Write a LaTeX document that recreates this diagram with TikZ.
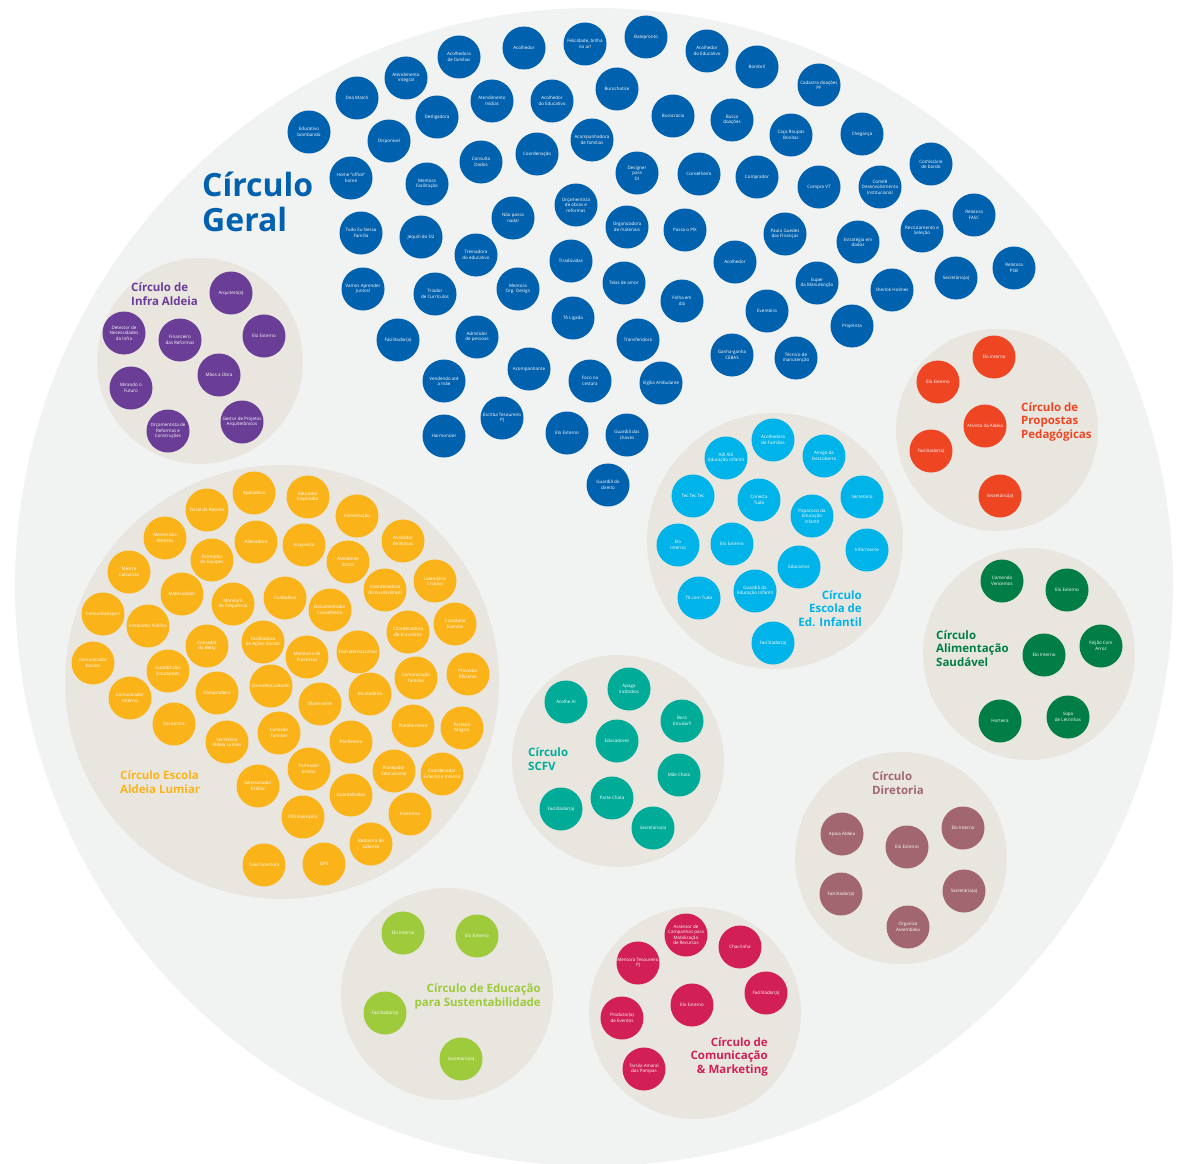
\documentclass[tikz,border=0pt]{standalone}
\usepackage{fontspec}
\setmainfont{Open Sans}

\definecolor{biggray}{HTML}{F1F2F2}
\definecolor{beige}{HTML}{E9E6DF}
\definecolor{geralblue}{HTML}{0061AE}
\definecolor{infrapurple}{HTML}{6A3D96}
\definecolor{escolaorange}{HTML}{FBB31A}
\definecolor{edinfblue}{HTML}{00B3E8}
\definecolor{propred}{HTML}{EE4523}
\definecolor{alimgreen}{HTML}{007E45}
\definecolor{scfvteal}{HTML}{00AB98}
\definecolor{dirmauve}{HTML}{A1666F}
\definecolor{sustlime}{HTML}{9DCB3C}
\definecolor{comcrimson}{HTML}{D21F55}

\begin{document}
\begin{tikzpicture}[x=1pt, y=-1pt,
    rolenode/.style={circle,
        fill=#1,
        minimum size=43pt,
        inner sep=0pt,
        text=white,
        align=center,
        font=\fontsize{4.5}{5.4}\selectfont
    },
    titletext/.style={text=#1,
        inner sep=0pt,
        font=\bfseries\fontsize{11.5}{13.3}\selectfont
    }
]

    \useasboundingbox (0,0) rectangle (1184,1164);
    \fill[white] (0,0) rectangle (1184,1164);
    \fill[biggray] (594,587) circle (579pt);

    % groups
    \fill[beige] (200,361) circle (103pt);
    \fill[beige] (282,682) circle (217pt);
    \fill[beige] (775,541) circle (128pt);
    \fill[beige] (997,430) circle (101pt);
    \fill[beige] (1029,654) circle (106pt);
    \fill[beige] (618,761) circle (106pt);
    \fill[beige] (901,858) circle (106pt);
    \fill[beige] (447,994) circle (106pt);
    \fill[beige] (695,1013) circle (106pt);

    % Circulo Geral
    \node[text=geralblue, inner sep=0pt, anchor=base west, align=left,
        font=\bfseries\fontsize{32}{35}\selectfont] (geraltitle) at (202,231) {Círculo\\Geral};
    \node[rolenode=geralblue] (geral1) at (459,57) {Acolhedora\\de famílias};
    \node[rolenode=geralblue] (geral2) at (524,48) {Acolhedor};
    \node[rolenode=geralblue] (geral3) at (585,44) {Felicidade, brilha\\no ar!};
    \node[rolenode=geralblue] (geral4) at (646,37) {Batepronto};
    \node[rolenode=geralblue] (geral5) at (707,51) {Acolhedor\\do Educativo};
    \node[rolenode=geralblue] (geral6) at (757,67) {Bombril};
    \node[rolenode=geralblue] (geral7) at (819,85) {Cadastra doações\\PF};
    \node[rolenode=geralblue] (geral8) at (406,78) {Atendimento\\integral};
    \node[rolenode=geralblue] (geral9) at (357,98) {Dea Match};
    \node[rolenode=geralblue] (geral10) at (492,101) {Atendimento\\mídias};
    \node[rolenode=geralblue] (geral11) at (552,101) {Acolhedor\\do Educativo};
    \node[rolenode=geralblue] (geral12) at (617,89) {Burochatice};
    \node[rolenode=geralblue] (geral13) at (673,116) {Burocracia};
    \node[rolenode=geralblue] (geral14) at (732,120) {Busca\\doações};
    \node[rolenode=geralblue] (geral15) at (791,135) {Caça Roupas\\Bonitas};
    \node[rolenode=geralblue] (geral16) at (862,134) {Chegança};
    \node[rolenode=geralblue] (geral17) at (437,117) {Desligadora};
    \node[rolenode=geralblue] (geral18) at (309,132) {Educativo\\bombando};
    \node[rolenode=geralblue] (geral19) at (389,141) {Disponível};
    \node[rolenode=geralblue] (geral20) at (481,162) {Consulta\\Dados};
    \node[rolenode=geralblue] (geral21) at (537,154) {Coordenação};
    \node[rolenode=geralblue] (geral22) at (592,140) {Acompanhadora\\de famílias};
    \node[rolenode=geralblue] (geral23) at (637,173) {Designer\\para\\DI};
    \node[rolenode=geralblue] (geral24) at (699,174) {Conselheiro};
    \node[rolenode=geralblue] (geral25) at (757,177) {Comprador};
    \node[rolenode=geralblue] (geral26) at (819,187) {Compra VT};
    \node[rolenode=geralblue] (geral27) at (880,187) {Comitê\\Desenvolvimento\\Institucional};
    \node[rolenode=geralblue] (geral28) at (931,164) {Comissário\\de bordo};
    \node[rolenode=geralblue] (geral29) at (351,178) {Home "office"\\home};
    \node[rolenode=geralblue] (geral30) at (427,184) {Mentora\\Facilitação};
    \node[rolenode=geralblue] (geral31) at (513,218) {Não passa\\nada!};
    \node[rolenode=geralblue] (geral32) at (576,205) {Orçamentista\\de obras e\\reformas};
    \node[rolenode=geralblue] (geral33) at (627,227) {Organizadora\\de materiais};
    \node[rolenode=geralblue] (geral34) at (685,230) {Passa o PIX};
    \node[rolenode=geralblue] (geral35) at (785,234) {Paulo Guedes\\das Finanças};
    \node[rolenode=geralblue] (geral36) at (858,242) {Estratégia em\\dados};
    \node[rolenode=geralblue] (geral37) at (922,231) {Recrutamento e\\Seleção};
    \node[rolenode=geralblue] (geral38) at (974,215) {Relatora\\FASC};
    \node[rolenode=geralblue] (geral39) at (361,233) {Tudo Eu Nessa\\Família};
    \node[rolenode=geralblue] (geral40) at (421,237) {Jequiti do D2};
    \node[rolenode=geralblue] (geral41) at (476,255) {Treinadora\\do educativo};
    \node[rolenode=geralblue] (geral42) at (571,261) {Tiradúvidas};
    \node[rolenode=geralblue] (geral43) at (363,289) {Vamos Aprender\\Juntos!};
    \node[rolenode=geralblue] (geral44) at (435,294) {Triador\\de Currículos};
    \node[rolenode=geralblue] (geral45) at (518,289) {Mentora\\Org. Design};
    \node[rolenode=geralblue] (geral46) at (624,283) {Telas de amor};
    \node[rolenode=geralblue] (geral47) at (682,301) {Folha em\\dia};
    \node[rolenode=geralblue] (geral48) at (735,262) {Acolhedor};
    \node[rolenode=geralblue] (geral49) at (817,283) {Super\\da Manutenção};
    \node[rolenode=geralblue] (geral50) at (892,290) {Sherlok Holmes};
    \node[rolenode=geralblue] (geral51) at (956,278) {Secretário(a)};
    \node[rolenode=geralblue] (geral52) at (1014,268) {Relatora\\PSB};
    \node[rolenode=geralblue] (geral53) at (573,318) {Tô Ligada};
    \node[rolenode=geralblue] (geral54) at (398,340) {Facilitador(a)};
    \node[rolenode=geralblue] (geral55) at (477,337) {Admitidor\\de pessoas};
    \node[rolenode=geralblue] (geral56) at (638,340) {Transferidora};
    \node[rolenode=geralblue] (geral57) at (767,311) {Eventeira};
    \node[rolenode=geralblue] (geral58) at (852,326) {Projetista};
    \node[rolenode=geralblue] (geral59) at (444,381) {Vendendo até\\a mãe};
    \node[rolenode=geralblue] (geral60) at (529,369) {Acompanhante};
    \node[rolenode=geralblue] (geral61) at (590,381) {Foco na\\cestara};
    \node[rolenode=geralblue] (geral62) at (661,383) {Vigília Ambulante};
    \node[rolenode=geralblue] (geral63) at (732,355) {Ganha-ganha\\CEBAS};
    \node[rolenode=geralblue] (geral64) at (796,358) {Técnico de\\manutenção};
    \node[rolenode=geralblue] (geral65) at (444,436) {Harmonizer};
    \node[rolenode=geralblue] (geral66) at (502,418) {Escriba Tesoureiro\\PJ};
    \node[rolenode=geralblue] (geral67) at (567,433) {Elo Externo};
    \node[rolenode=geralblue] (geral68) at (627,435) {Guardiã das\\chaves};
    \node[rolenode=geralblue] (geral69) at (608,485) {Guardiã do\\direito};

    % Circulo de Infra Aldeia
    \node[titletext=infrapurple, anchor=base west, align=left] (infratitle) at (131,305) {Círculo de\\Infra Aldeia};
    \node[rolenode=infrapurple] (infra1) at (231,293) {Arquiteto(a)};
    \node[rolenode=infrapurple] (infra2) at (264,336) {Elo Externo};
    \node[rolenode=infrapurple] (infra3) at (124,333) {Detector de\\Necessidades\\da Infra};
    \node[rolenode=infrapurple] (infra4) at (180,340) {Financeiro\\das Reformas};
    \node[rolenode=infrapurple] (infra5) at (219,375) {Mãos a Obra};
    \node[rolenode=infrapurple] (infra6) at (131,388) {Mirando o\\Futuro};
    \node[rolenode=infrapurple] (infra7) at (168,431) {Orçamentista de\\Reformas e\\Construções};
    \node[rolenode=infrapurple] (infra8) at (242,422) {Gestor de Projetos\\Arquitetônicos};

    % Circulo Escola Aldeia Lumiar
    \node[titletext=escolaorange, anchor=base west, align=left] (escolatitle) at (120,793) {Círculo Escola\\Aldeia Lumiar};
    \node[rolenode=escolaorange] (escola1) at (254,493) {Apoiadora};
    \node[rolenode=escolaorange] (escola2) at (207,510) {Fiscal da Receita};
    \node[rolenode=escolaorange] (escola3) at (165,538) {Mestre dos\\Mestres};
    \node[rolenode=escolaorange] (escola4) at (256,542) {Alienadora};
    \node[rolenode=escolaorange] (escola5) at (129,572) {Mestre\\Calculista};
    \node[rolenode=escolaorange] (escola6) at (212,560) {Formador\\de Equipes};
    \node[rolenode=escolaorange] (escola7) at (182,594) {Matriculador};
    \node[rolenode=escolaorange] (escola8) at (233,604) {Monitora\\de frequência};
    \node[rolenode=escolaorange] (escola9) at (285,598) {Cuidadora};
    \node[rolenode=escolaorange] (escola10) at (103,614) {ComunicaExpert};
    \node[rolenode=escolaorange] (escola11) at (148,626) {Instalador Público};
    \node[rolenode=escolaorange] (escola12) at (207,646) {Comadre\\da Betty};
    \node[rolenode=escolaorange] (escola13) at (263,642) {Facilitadora\\de Ações Sociais};
    \node[rolenode=escolaorange] (escola14) at (93,663) {Comunicador\\Escolar};
    \node[rolenode=escolaorange] (escola15) at (168,671) {Guardiã dos\\Estudantes};
    \node[rolenode=escolaorange] (escola16) at (217,693) {Compradeira};
    \node[rolenode=escolaorange] (escola17) at (271,686) {ConselhoCuidador};
    \node[rolenode=escolaorange] (escola18) at (130,698) {Comunicador\\Interno};
    \node[rolenode=escolaorange] (escola19) at (174,724) {Socorrista};
    \node[rolenode=escolaorange] (escola20) at (227,742) {Secretário\\Aldeia Lumiar};
    \node[rolenode=escolaorange] (escola21) at (279,733) {Conexão\\Familiar};
    \node[rolenode=escolaorange] (escola22) at (258,786) {Selecionador\\Estelar};
    \node[rolenode=escolaorange] (escola23) at (264,865) {TuluConectora};
    \node[rolenode=escolaorange] (escola24) at (308,497) {Educador\\Inspirador};
    \node[rolenode=escolaorange] (escola25) at (304,545) {Arquivista};
    \node[rolenode=escolaorange] (escola26) at (330,610) {Documentador\\Conselheiro};
    \node[rolenode=escolaorange] (escola27) at (307,657) {Monitoria de\\Processos};
    \node[rolenode=escolaorange] (escola28) at (320,704) {Observante};
    \node[rolenode=escolaorange] (escola29) at (309,769) {Formador\\Estelar};
    \node[rolenode=escolaorange] (escola30) at (303,817) {OficinaInspira};
    \node[rolenode=escolaorange] (escola31) at (324,864) {GPS};
    \node[rolenode=escolaorange] (escola32) at (357,516) {Alimentação};
    \node[rolenode=escolaorange] (escola33) at (403,541) {Avaliador\\de Bolsas};
    \node[rolenode=escolaorange] (escola34) at (348,562) {Atendente\\Social};
    \node[rolenode=escolaorange] (escola35) at (435,581) {Calendário\\Criativo};
    \node[rolenode=escolaorange] (escola36) at (385,590) {Coordenadora\\do Auxílio Brasil};
    \node[rolenode=escolaorange] (escola37) at (455,624) {Coordena\\Eventos};
    \node[rolenode=escolaorange] (escola38) at (408,632) {Coordenadora\\de Encontros};
    \node[rolenode=escolaorange] (escola39) at (358,652) {ElaFraternaLumiar};
    \node[rolenode=escolaorange] (escola40) at (468,674) {Provedor\\Eficiente};
    \node[rolenode=escolaorange] (escola41) at (416,678) {Comunicação\\Familiar};
    \node[rolenode=escolaorange] (escola42) at (370,694) {Escutadeira};
    \node[rolenode=escolaorange] (escola43) at (413,726) {Plataformeira};
    \node[rolenode=escolaorange] (escola44) at (462,728) {Porteiro\\Mágico};
    \node[rolenode=escolaorange] (escola45) at (351,742) {Panfleteira};
    \node[rolenode=escolaorange] (escola46) at (394,771) {Planejador\\Educacional};
    \node[rolenode=escolaorange] (escola47) at (442,774) {Coordenador\\Externo e Interno};
    \node[rolenode=escolaorange] (escola48) at (351,795) {GuardaDados};
    \node[rolenode=escolaorange] (escola49) at (410,814) {Inventora};
    \node[rolenode=escolaorange] (escola50) at (371,844) {Redatora de\\Saberes};

    % Circulo Escola de Ed. Infantil
    \node[titletext=edinfblue, anchor=base east, align=right] (edinftitle) at (862,626) {Círculo\\Escola de\\Ed. Infantil};
    \node[rolenode=edinfblue] (edinf1) at (773,440) {Acolhedora\\de Famílias};
    \node[rolenode=edinfblue] (edinf2) at (726,458) {Alô Alô\\Educação Infantil};
    \node[rolenode=edinfblue] (edinf3) at (824,456) {Amigo da\\Descoberta};
    \node[rolenode=edinfblue] (edinf4) at (693,496) {Tec Tec Tec};
    \node[rolenode=edinfblue] (edinf5) at (759,500) {Conecta\\Tudo};
    \node[rolenode=edinfblue] (edinf6) at (812,516) {Papacozzi da\\Educação\\Infantil};
    \node[rolenode=edinfblue] (edinf7) at (862,497) {Secretário};
    \node[rolenode=edinfblue] (edinf8) at (678,545) {Elo\\Interno};
    \node[rolenode=edinfblue] (edinf9) at (732,544) {Elo Externo};
    \node[rolenode=edinfblue] (edinf10) at (867,550) {Informante};
    \node[rolenode=edinfblue] (edinf11) at (799,567) {Educamor};
    \node[rolenode=edinfblue] (edinf12) at (699,598) {Tô com Tudo};
    \node[rolenode=edinfblue] (edinf13) at (755,591) {Guardiã da\\Educação Infantil};
    \node[rolenode=edinfblue] (edinf14) at (773,643) {Facilitador(a)};

    % Circulo de Propostas Pedagogicas
    \node[titletext=propred, anchor=base west, align=left] (proptitle) at (1021,438) {Círculo de\\Propostas\\Pedagógicas};
    \node[rolenode=propred] (prop1) at (994,357) {Elo Interno};
    \node[rolenode=propred] (prop2) at (938,382) {Elo Externo};
    \node[rolenode=propred] (prop3) at (985,426) {Ativista da Aldeia};
    \node[rolenode=propred] (prop4) at (931,451) {Facilitador(a)};
    \node[rolenode=propred] (prop5) at (1000,496) {Secretário(a)};

    % Circulo Alimentacao Saudavel
    \node[titletext=alimgreen, anchor=base west, align=left] (alimtitle) at (936,666) {Círculo\\Alimentação\\Saudável};
    \node[rolenode=alimgreen] (alim1) at (1002,581) {Comendo\\Vencemos};
    \node[rolenode=alimgreen] (alim2) at (1067,590) {Elo Externo};
    \node[rolenode=alimgreen] (alim3) at (1044,655) {Elo Interno};
    \node[rolenode=alimgreen] (alim4) at (1101,646) {Feijão Com\\Arroz};
    \node[rolenode=alimgreen] (alim5) at (1000,721) {Horteira};
    \node[rolenode=alimgreen] (alim6) at (1068,717) {Sopa\\de Letrinhas};

    % Circulo SCFV
    \node[titletext=scfvteal, anchor=base west, align=left] (scfvtitle) at (528,770) {Círculo\\SCFV};
    \node[rolenode=scfvteal] (scfv1) at (566,702) {Acolhe Aí};
    \node[rolenode=scfvteal] (scfv2) at (629,689) {Apaga\\Incêndios};
    \node[rolenode=scfvteal] (scfv3) at (682,721) {Bora\\Estudar!!};
    \node[rolenode=scfvteal] (scfv4) at (617,741) {Educadores};
    \node[rolenode=scfvteal] (scfv5) at (679,775) {Mãe Chata};
    \node[rolenode=scfvteal] (scfv6) at (612,798) {Parte Chata};
    \node[rolenode=scfvteal] (scfv7) at (561,809) {Facilitador(a)};
    \node[rolenode=scfvteal] (scfv8) at (653,828) {Secretário(a)};

    % Circulo Diretoria
    \node[titletext=dirmauve, anchor=base west, align=left] (dirtitle) at (872,794) {Círculo\\Diretoria};
    \node[rolenode=dirmauve] (dir1) at (842,834) {Apoia Aldeia};
    \node[rolenode=dirmauve] (dir2) at (907,847) {Elo Externo};
    \node[rolenode=dirmauve] (dir3) at (963,828) {Elo Interno};
    \node[rolenode=dirmauve] (dir4) at (841,894) {Facilitador(a)};
    \node[rolenode=dirmauve] (dir5) at (964,891) {Secretário(a)};
    \node[rolenode=dirmauve] (dir6) at (908,927) {Organiza\\Assembleia};

    % Circulo de Educacao para Sustentabilidade
    \node[titletext=sustlime, anchor=base east, align=right] (susttitle) at (541,1006) {Círculo de Educação\\para Sustentabilidade};
    \node[rolenode=sustlime] (sust1) at (403,933) {Elo Interno};
    \node[rolenode=sustlime] (sust2) at (477,936) {Elo Externo};
    \node[rolenode=sustlime] (sust3) at (385,1013) {Facilitador(a)};
    \node[rolenode=sustlime] (sust4) at (461,1059) {Secretário(a)};

    % Circulo de Comunicacao & Marketing
    \node[titletext=comcrimson, anchor=base east, align=right] (comtitle) at (768,1073) {Círculo de\\Comunicação\\\& Marketing};
    \node[rolenode=comcrimson] (com1) at (686,935) {Assessor de\\Campanhas para\\Mobilização\\de Recursos};
    \node[rolenode=comcrimson] (com2) at (740,947) {Chacrinha};
    \node[rolenode=comcrimson] (com3) at (638,963) {Mentora Tesoureiro\\PJ};
    \node[rolenode=comcrimson] (com4) at (766,993) {Facilitador(a)};
    \node[rolenode=comcrimson] (com5) at (692,1005) {Elo Externo};
    \node[rolenode=comcrimson] (com6) at (622,1018) {Produtor(a)\\de Eventos};
    \node[rolenode=comcrimson] (com7) at (644,1069) {Tarsila Amaral\\dos Pampas};

\end{tikzpicture}
\end{document}
